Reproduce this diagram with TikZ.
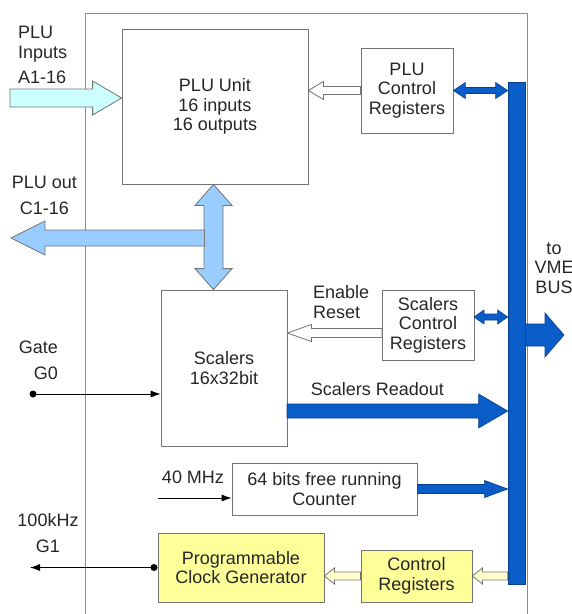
\documentclass[tikz,border=0pt]{standalone}
\usepackage{fontspec}
\setmainfont{Liberation Sans}
\usetikzlibrary{calc,arrows.meta}

\definecolor{busblue}{RGB}{10,92,200}
\definecolor{incyan}{RGB}{204,255,255}
\definecolor{outblue}{RGB}{153,204,255}
\definecolor{boxyellow}{RGB}{255,255,153}
\definecolor{arryellow}{RGB}{255,255,204}

\begin{document}
\begin{tikzpicture}[x=1pt,y=-1pt,
    box/.style={draw=black!55,fill=white,line width=0.8pt,align=center,inner sep=0pt,
        text=black!85,font=\fontsize{18}{19.5}\selectfont},
    lbl/.style={inner sep=0pt,text=black!85,font=\fontsize{18}{19.5}\selectfont},
    sig/.style={line width=0.8pt,-{Latex[length=10pt,width=7pt]}},
    bluefill/.style={draw=busblue!70!black,fill=busblue,line width=0.6pt},
    hollow/.style={draw=black!55,fill=white,line width=0.8pt},
    % 单向块箭头: 杆半宽 / 头半宽 / 头长
    blkarrow/.style n args={3}{to path={
        ($(\tikztostart)!#1!90:(\tikztotarget)$)
        -- ($(\tikztotarget)!#3!(\tikztostart)!#1!-90:(\tikztostart)$)
        -- ($(\tikztotarget)!#3!(\tikztostart)!#2!-90:(\tikztostart)$)
        -- (\tikztotarget)
        -- ($(\tikztotarget)!#3!(\tikztostart)!#2!90:(\tikztostart)$)
        -- ($(\tikztotarget)!#3!(\tikztostart)!#1!90:(\tikztostart)$)
        -- ($(\tikztostart)!#1!-90:(\tikztotarget)$)
        -- cycle}},
    % 双向块箭头
    blkdouble/.style n args={3}{to path={
        (\tikztostart)
        -- ($(\tikztostart)!#3!(\tikztotarget)!#2!90:(\tikztotarget)$)
        -- ($(\tikztostart)!#3!(\tikztotarget)!#1!90:(\tikztotarget)$)
        -- ($(\tikztotarget)!#3!(\tikztostart)!#1!-90:(\tikztostart)$)
        -- ($(\tikztotarget)!#3!(\tikztostart)!#2!-90:(\tikztostart)$)
        -- (\tikztotarget)
        -- ($(\tikztotarget)!#3!(\tikztostart)!#2!90:(\tikztostart)$)
        -- ($(\tikztotarget)!#3!(\tikztostart)!#1!90:(\tikztostart)$)
        -- ($(\tikztostart)!#3!(\tikztotarget)!#1!-90:(\tikztotarget)$)
        -- ($(\tikztostart)!#3!(\tikztotarget)!#2!-90:(\tikztotarget)$)
        -- cycle}}
]
    \useasboundingbox (0,0) rectangle (572,614);

    % 外框 (下边开口)
    \draw[black!45,line width=0.8pt] (85,640) -- (85,13) -- (527,13) -- (527,640);

    % 方框
    \node[box,minimum width=186pt,minimum height=155pt] (plu) at (215,106.5) {PLU Unit\\16 inputs\\16 outputs};
    \node[box,minimum width=92pt,minimum height=85pt] (plucr) at (407,90.5) {PLU\\Control\\Registers};
    \node[box,minimum width=126pt,minimum height=156pt] (sc) at (224,368) {Scalers\\16x32bit};
    \node[box,minimum width=92pt,minimum height=70pt] (scr) at (428,325) {Scalers\\Control\\Registers};
    \node[box,minimum width=185pt,minimum height=52pt] (cnt) at (324.5,489) {64 bits free running\\Counter};
    \node[box,fill=boxyellow,minimum width=166pt,minimum height=69pt] (clk) at (241,567.5) {Programmable\\Clock Generator};
    \node[box,fill=boxyellow,minimum width=111pt,minimum height=52pt] (creg) at (416.5,576) {Control\\Registers};

    % VME 总线
    \node[bluefill,minimum width=17pt,minimum height=502pt,inner sep=0pt] (bus) at (516.5,333) {};

    % 端点
    \coordinate (ina) at (10,98);
    \coordinate (outc) at (11,238);
    \coordinate (outs) at (204.5,238);
    \coordinate (bi) at (213.5,0);
    \coordinate (enr) at (382,333);
    \coordinate (scbus) at (474,317);
    \coordinate (rd) at (287,411);
    \coordinate (vme) at (564,335);
    \coordinate (gate) at (33,394);
    \coordinate (mhz) at (158,498);
    \coordinate (g1) at (30,567.5);
    \coordinate (g1dot) at (154,567.5);

    % PLU 部分
    \draw[draw=black!55,fill=incyan,line width=0.8pt,blkarrow={9pt}{17pt}{29pt}] (ina) to (plu.west |- ina);
    \draw[hollow,blkarrow={4pt}{9pt}{15pt}] (plucr.west) to (plu.east |- plucr.west);
    \draw[bluefill,blkdouble={3pt}{8pt}{12pt}] (plucr.east) to (bus.west |- plucr.east);
    \draw[draw=black!55,fill=outblue,line width=0.8pt,blkdouble={9.5pt}{18.5pt}{21pt}] (plu.south -| bi) to (sc.north -| bi);
    \draw[draw=black!55,fill=outblue,line width=0.8pt,blkarrow={8pt}{17pt}{34pt}] (outs) to (outc);

    % Scalers 部分
    \draw[hollow,blkarrow={4.5pt}{8.5pt}{24pt}] (enr) to (sc.east |- enr);
    \draw[bluefill,blkdouble={3pt}{7pt}{10pt}] (scbus) to (bus.west |- scbus);
    \draw[bluefill,blkarrow={7pt}{17pt}{29pt}] (rd) to (bus.west |- rd);
    \draw[bluefill,blkarrow={11pt}{22pt}{19pt}] (bus.east |- vme) to (vme);

    % 计数器和时钟
    \draw[bluefill,blkarrow={4.5pt}{8.5pt}{23pt}] (cnt.east) to (bus.west |- cnt.east);
    \draw[draw=black!55,fill=arryellow,line width=0.8pt,blkarrow={4pt}{8pt}{10pt}] (bus.west |- creg.east) to (creg.east);
    \draw[draw=black!55,fill=arryellow,line width=0.8pt,blkarrow={4pt}{8pt}{10pt}] (creg.west) to (clk.east |- creg.west);

    % 细信号线
    \fill (gate) circle (3.5pt);
    \draw[sig] (gate) -- (sc.west |- gate);
    \draw[sig] (mhz) -- (cnt.west |- mhz);
    \fill (g1dot) circle (3.5pt);
    \draw[sig] (g1dot) -- (g1);

    % 文字 (base = 最后一行的基线)
    \node[lbl,anchor=base west,align=left] (tin) at (18,83.4) {PLU\\Inputs\\[5.5pt]A1-16};
    \node[lbl,anchor=base,align=center] (tout) at (44.5,214.4) {PLU out\\[6.5pt]C1-16};
    \node[lbl,anchor=base east,align=right] (tgate) at (58,379.4) {Gate\\[6.5pt]G0};
    \node[lbl,anchor=base,align=center] (tkhz) at (48,552.4) {100kHz\\[6.5pt]G1};
    \node[lbl,anchor=base west,align=left] (ten) at (313,318.4) {Enable\\Reset};
    \node[lbl,anchor=base] (trd) at (377.5,395.4) {Scalers Readout};
    \node[lbl,anchor=base] (tmhz) at (193,483.4) {40 MHz};
    \node[lbl,anchor=base,align=center] (tvme) at (554,293.4) {to\\VME\\BUS};
\end{tikzpicture}
\end{document}
